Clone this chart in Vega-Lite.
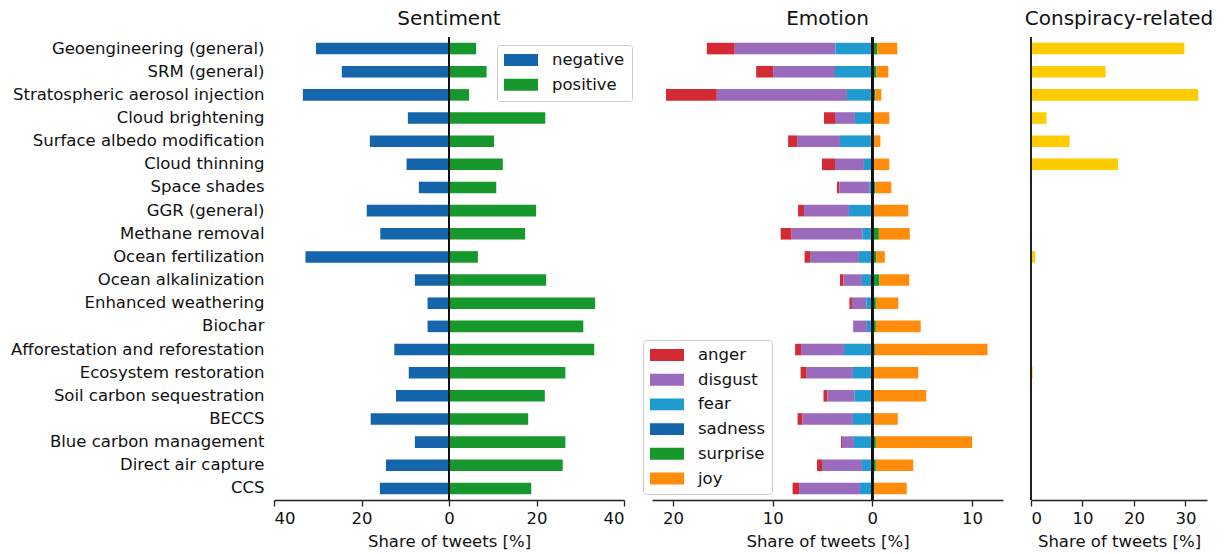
{
  "$schema": "https://vega.github.io/schema/vega-lite/v6.json",
  "padding": {"left": 10, "top": 9, "right": 5, "bottom": 5},
  "bounds": "flush",
  "spacing": 28,
  "datasets": {
    "d": [
      {"category": "Geoengineering (general)", "negative": -30.4, "positive": 6.2, "anger": -2.8, "disgust": -10.1, "fear": -3.5, "sadness": -0.2, "surprise": 0.5, "joy": 2.0, "conspiracy": 29.8},
      {"category": "SRM (general)", "negative": -24.5, "positive": 8.6, "anger": -1.7, "disgust": -6.2, "fear": -3.6, "sadness": -0.15, "surprise": 0.4, "joy": 1.2, "conspiracy": 14.5},
      {"category": "Stratospheric aerosol injection", "negative": -33.4, "positive": 4.6, "anger": -5.1, "disgust": -13.05, "fear": -2.4, "sadness": -0.15, "surprise": 0.3, "joy": 0.6, "conspiracy": 32.5},
      {"category": "Cloud brightening", "negative": -9.4, "positive": 22.0, "anger": -1.1, "disgust": -2.0, "fear": -1.6, "sadness": -0.15, "surprise": 0.1, "joy": 1.6, "conspiracy": 3.0},
      {"category": "Surface albedo modification", "negative": -18.1, "positive": 10.3, "anger": -0.9, "disgust": -4.3, "fear": -3.1, "sadness": -0.15, "surprise": 0.05, "joy": 0.75, "conspiracy": 7.5},
      {"category": "Cloud thinning", "negative": -9.7, "positive": 12.3, "anger": -1.3, "disgust": -2.9, "fear": -0.75, "sadness": -0.1, "surprise": 0.05, "joy": 1.65, "conspiracy": 16.9},
      {"category": "Space shades", "negative": -6.9, "positive": 10.8, "anger": -0.25, "disgust": -3.0, "fear": -0.2, "sadness": -0.1, "surprise": 0.3, "joy": 1.6, "conspiracy": 0.2},
      {"category": "GGR (general)", "negative": -18.8, "positive": 19.9, "anger": -0.6, "disgust": -4.5, "fear": -2.2, "sadness": -0.15, "surprise": 0.1, "joy": 3.5, "conspiracy": 0},
      {"category": "Methane removal", "negative": -15.7, "positive": 17.4, "anger": -1.1, "disgust": -7.1, "fear": -0.85, "sadness": -0.15, "surprise": 0.65, "joy": 3.1, "conspiracy": 0},
      {"category": "Ocean fertilization", "negative": -32.8, "positive": 6.6, "anger": -0.55, "disgust": -4.9, "fear": -1.2, "sadness": -0.15, "surprise": 0.4, "joy": 0.85, "conspiracy": 0.8},
      {"category": "Ocean alkalinization", "negative": -7.8, "positive": 22.2, "anger": -0.35, "disgust": -1.85, "fear": -0.9, "sadness": -0.15, "surprise": 0.7, "joy": 3.0, "conspiracy": 0},
      {"category": "Enhanced weathering", "negative": -4.9, "positive": 33.4, "anger": -0.25, "disgust": -1.45, "fear": -0.5, "sadness": -0.1, "surprise": 0.35, "joy": 2.25, "conspiracy": 0},
      {"category": "Biochar", "negative": -4.9, "positive": 30.7, "anger": -0.05, "disgust": -1.35, "fear": -0.35, "sadness": -0.2, "surprise": 0.35, "joy": 4.5, "conspiracy": 0},
      {"category": "Afforestation and reforestation", "negative": -12.5, "positive": 33.2, "anger": -0.6, "disgust": -4.3, "fear": -2.7, "sadness": -0.15, "surprise": 0.25, "joy": 11.3, "conspiracy": 0},
      {"category": "Ecosystem restoration", "negative": -9.2, "positive": 26.6, "anger": -0.55, "disgust": -4.7, "fear": -1.8, "sadness": -0.15, "surprise": 0.15, "joy": 4.45, "conspiracy": 0.3},
      {"category": "Soil carbon sequestration", "negative": -12.1, "positive": 21.9, "anger": -0.4, "disgust": -2.7, "fear": -1.65, "sadness": -0.15, "surprise": 0.1, "joy": 5.3, "conspiracy": 0},
      {"category": "BECCS", "negative": -17.9, "positive": 18.1, "anger": -0.5, "disgust": -5.05, "fear": -1.8, "sadness": -0.15, "surprise": 0.1, "joy": 2.45, "conspiracy": 0},
      {"category": "Blue carbon management", "negative": -7.8, "positive": 26.6, "anger": -0.1, "disgust": -1.2, "fear": -1.7, "sadness": -0.15, "surprise": 0.35, "joy": 9.65, "conspiracy": 0},
      {"category": "Direct air capture", "negative": -14.4, "positive": 26.0, "anger": -0.5, "disgust": -4.0, "fear": -0.9, "sadness": -0.15, "surprise": 0.35, "joy": 3.75, "conspiracy": 0},
      {"category": "CCS", "negative": -15.8, "positive": 18.8, "anger": -0.65, "disgust": -6.1, "fear": -1.15, "sadness": -0.1, "surprise": 0.1, "joy": 3.35, "conspiracy": 0}
    ]
  },
  "data": {"name": "d"},
  "config": {
    "font": "DejaVu Sans",
    "view": {"stroke": null},
    "axis": {"labelFont": "DejaVu Sans", "titleFont": "DejaVu Sans", "labelFontSize": 16.5, "titleFontSize": 16.5, "titleFontWeight": "normal", "labelColor": "#111", "titleColor": "#111", "domainColor": "#222", "tickColor": "#222", "domainWidth": 1.3, "tickWidth": 1.3, "tickSize": 6, "grid": false, "labelPadding": 4, "titlePadding": 7},
    "title": {"font": "DejaVu Sans", "fontSize": 20, "fontWeight": "normal", "color": "#111", "offset": 7},
    "legend": {"labelFont": "DejaVu Sans", "labelFontSize": 16.5, "labelColor": "#111", "symbolType": "M-1,-0.35H1V0.35H-1Z", "symbolSize": 1156, "symbolStrokeWidth": 0, "clipHeight": 16, "rowPadding": 7.7, "labelOffset": 14, "strokeColor": "#cccccc", "fillColor": "white", "cornerRadius": 3, "padding": 6, "orient": "none"}
  },
  "resolve": {"scale": {"color": "independent", "x": "independent", "y": "independent"}, "legend": {"color": "independent"}},
  "hconcat": [
    {
      "width": 350,
      "height": 463,
      "title": "Sentiment",
      "layer": [
        {
          "transform": [{"fold": ["negative", "positive"], "as": ["sentiment", "share"]}],
          "mark": {"type": "bar"},
          "encoding": {
            "y": {"field": "category", "type": "nominal", "sort": null, "scale": {"paddingInner": 0.5, "paddingOuter": 0.25}, "axis": {"title": null, "domain": false, "ticks": false, "labelPadding": 10, "labelLimit": 400}},
            "x": {"field": "share", "type": "quantitative", "scale": {"domain": [-40, 40], "nice": false}, "axis": {"values": [-40, -20, 0, 20, 40], "labelExpr": "abs(datum.value)", "title": "Share of tweets [%]"}},
            "color": {"field": "sentiment", "type": "nominal", "scale": {"domain": ["negative", "positive"], "range": ["#1565ad", "#17982d"]}, "legend": {"title": null, "orient": "none", "legendX": 223, "legendY": 8, "padding": 7}}
          }
        },
        {"mark": {"type": "rule", "color": "#111", "strokeWidth": 1.5}, "encoding": {"x": {"datum": 0}}}
      ]
    },
    {
      "width": 351,
      "height": 463,
      "title": "Emotion",
      "layer": [
        {
          "transform": [
            {"fold": ["anger", "disgust", "fear", "sadness", "surprise", "joy"], "as": ["emotion", "share"]},
            {"calculate": "indexof(['sadness','fear','disgust','anger','surprise','joy'], datum.emotion)", "as": "ord"}
          ],
          "mark": {"type": "bar"},
          "encoding": {
            "y": {"field": "category", "type": "nominal", "sort": null, "scale": {"paddingInner": 0.5, "paddingOuter": 0.25}, "axis": null},
            "x": {"field": "share", "type": "quantitative", "stack": "zero", "scale": {"domain": [-22.1, 13.1], "nice": false}, "axis": {"values": [-20, -10, 0, 10], "labelExpr": "abs(datum.value)", "title": "Share of tweets [%]"}},
            "color": {"field": "emotion", "type": "nominal", "scale": {"domain": ["anger", "disgust", "fear", "sadness", "surprise", "joy"], "range": ["#d42a34", "#9a6bbd", "#1f9bd0", "#1565ad", "#17982d", "#ff8c0a"]}, "legend": {"title": null, "orient": "none", "legendX": -9, "legendY": 303, "padding": 7}},
            "order": {"field": "ord", "type": "quantitative"}
          }
        },
        {"mark": {"type": "rule", "color": "#111", "strokeWidth": 1.5}, "encoding": {"x": {"datum": 0}}}
      ]
    },
    {
      "width": 176,
      "height": 463,
      "title": "Conspiracy-related",
      "layer": [
        {
          "mark": {"type": "bar", "color": "#ffcc00"},
          "encoding": {
            "y": {"field": "category", "type": "nominal", "sort": null, "scale": {"paddingInner": 0.5, "paddingOuter": 0.25}, "axis": null},
            "x": {"field": "conspiracy", "type": "quantitative", "scale": {"domain": [0, 34.2], "nice": false}, "axis": {"values": [0, 10, 20, 30], "title": "Share of tweets [%]"}}
          }
        },
        {"mark": {"type": "rule", "color": "#222", "strokeWidth": 1.3}, "encoding": {"x": {"datum": 0}}}
      ]
    }
  ]
}
